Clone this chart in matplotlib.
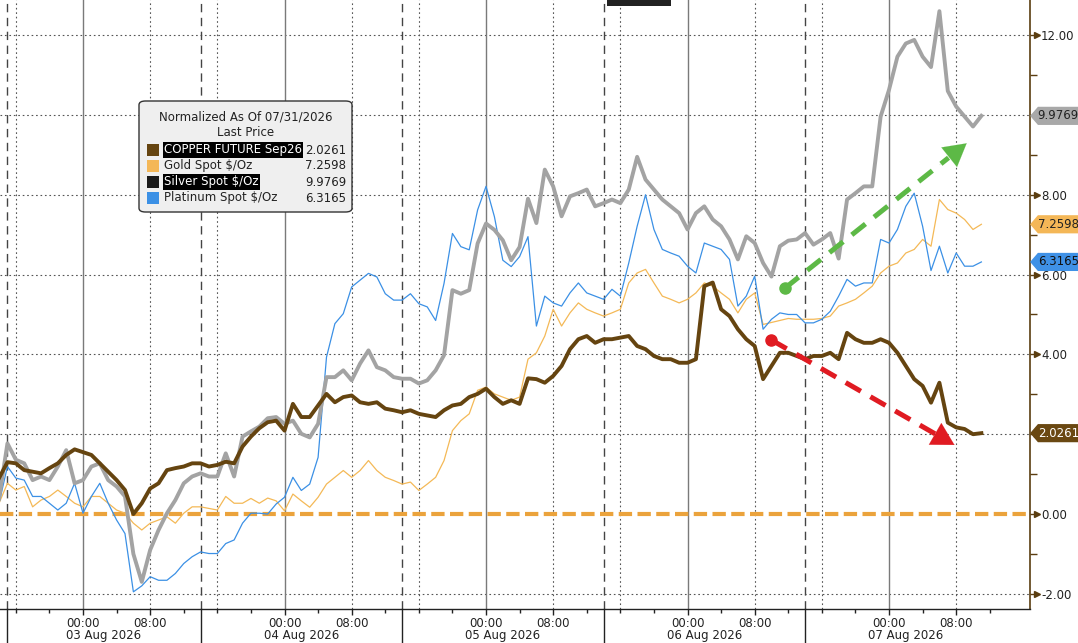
import numpy as np
import matplotlib
matplotlib.use("Agg")
import matplotlib.pyplot as plt
import matplotlib.transforms as mtransforms
from matplotlib.patches import FancyBboxPatch, Rectangle, Polygon

# ---------------- data (hours from 03 Aug 2026 00:00, normalized % change) ----------------
hours = np.arange(-10, 108)

copper = [0.90, 1.30, 1.27, 1.10, 1.06, 1.02, 1.15, 1.27, 1.48, 1.62,
          1.55, 1.48, 1.27, 1.06, 0.85, 0.60, 0.00, 0.27, 0.64, 0.77,
          1.10, 1.15, 1.19, 1.27, 1.27, 1.19, 1.23, 1.31, 1.27, 1.69,
          1.94, 2.15, 2.30, 2.34, 2.09, 2.76, 2.43, 2.43, 2.72, 3.01,
          2.80, 2.93, 2.97, 2.80, 2.76, 2.80, 2.64, 2.60, 2.55, 2.60,
          2.51, 2.47, 2.43, 2.60, 2.72, 2.76, 2.93, 3.01, 3.14, 2.93,
          2.76, 2.85, 2.76, 3.40, 3.38, 3.29, 3.46, 3.71, 4.13, 4.38,
          4.46, 4.29, 4.38, 4.38, 4.42, 4.46, 4.21, 4.13, 3.96, 3.88,
          3.88, 3.79, 3.79, 3.88, 5.71, 5.80, 5.13, 4.96, 4.63, 4.38,
          4.21, 3.38, 3.71, 4.04, 4.04, 3.96, 3.88, 3.96, 3.96, 4.04,
          3.88, 4.54, 4.38, 4.29, 4.29, 4.38, 4.29, 4.04, 3.71, 3.38,
          3.21, 2.79, 3.29, 2.29, 2.17, 2.13, 2.00, 2.0261]

gold = [0.27, 0.77, 0.60, 0.69, 0.18, 0.35, 0.44, 0.60, 0.44, 0.27,
        0.18, 0.44, 0.44, 0.27, 0.10, 0.02, -0.23, -0.40, -0.23, -0.15,
        -0.07, -0.23, 0.02, 0.18, 0.18, 0.14, 0.10, 0.44, 0.27, 0.27,
        0.39, 0.27, 0.40, 0.33, 0.08, 0.50, 0.33, 0.17, 0.42, 0.75,
        0.92, 1.09, 0.92, 1.09, 1.34, 1.09, 0.92, 0.84, 0.75, 0.80,
        0.59, 0.75, 0.92, 1.34, 2.09, 2.34, 2.51, 3.10, 3.18, 3.01,
        2.93, 2.85, 2.93, 3.88, 4.04, 4.46, 5.13, 4.71, 5.04, 5.29,
        5.13, 5.04, 4.96, 5.04, 5.13, 5.79, 6.04, 6.13, 5.79, 5.46,
        5.38, 5.29, 5.38, 5.54, 5.79, 5.71, 5.54, 5.38, 5.04, 5.38,
        5.54, 4.75, 4.80, 4.85, 4.90, 4.88, 4.88, 4.88, 4.90, 4.96,
        5.21, 5.29, 5.38, 5.54, 5.71, 6.04, 6.21, 6.29, 6.54, 6.63,
        6.88, 6.71, 7.88, 7.63, 7.54, 7.38, 7.13, 7.2598]

silver = [0.39, 1.77, 1.36, 1.27, 0.85, 0.94, 0.85, 1.19, 1.60, 0.77,
          0.85, 1.19, 1.27, 0.85, 0.69, 0.44, -1.00, -1.70, -0.90, -0.40,
          0.02, 0.35, 0.77, 0.94, 1.02, 0.94, 0.94, 1.52, 0.94, 1.94,
          2.07, 2.19, 2.40, 2.43, 2.26, 2.34, 2.01, 1.92, 2.26, 3.43,
          3.43, 3.60, 3.35, 3.77, 4.10, 3.68, 3.60, 3.43, 3.39, 3.39,
          3.27, 3.35, 3.60, 3.98, 5.61, 5.52, 5.61, 6.78, 7.28, 7.12,
          6.86, 6.36, 6.69, 7.90, 7.29, 8.63, 8.21, 7.46, 7.96, 8.04,
          8.13, 7.71, 7.79, 7.88, 7.79, 8.13, 8.95, 8.38, 8.13, 7.88,
          7.71, 7.54, 7.13, 7.54, 7.71, 7.38, 7.21, 6.88, 6.38, 6.96,
          6.79, 6.29, 5.95, 6.71, 6.85, 6.88, 7.04, 6.75, 6.88, 7.04,
          6.40, 7.88, 8.04, 8.21, 8.21, 9.96, 10.63, 11.46, 11.79, 11.88,
          11.46, 11.20, 12.60, 10.60, 10.21, 9.96, 9.71, 9.9769]

platinum = [0.27, 1.19, 0.90, 0.85, 0.44, 0.44, 0.27, 0.10, 0.27, 0.77,
            0.02, 0.44, 0.77, 0.27, -0.15, -0.49, -1.95, -1.80, -1.57, -1.66,
            -1.66, -1.49, -1.24, -1.07, -0.95, -0.99, -0.99, -0.74, -0.65, -0.23,
            0.02, 0.02, 0.00, 0.25, 0.42, 0.92, 0.59, 0.75, 1.42, 3.93,
            4.77, 5.02, 5.69, 5.86, 6.03, 5.94, 5.52, 5.36, 5.36, 5.52,
            5.27, 5.19, 4.85, 5.78, 7.03, 6.70, 6.62, 7.62, 8.21, 7.45,
            6.36, 6.20, 6.45, 6.95, 4.71, 5.46, 5.29, 5.21, 5.54, 5.79,
            5.54, 5.46, 5.38, 5.63, 5.46, 6.29, 7.21, 8.00, 7.13, 6.63,
            6.54, 6.46, 6.21, 6.04, 6.79, 6.71, 6.63, 6.38, 5.21, 5.46,
            5.96, 4.63, 4.88, 5.04, 5.00, 5.00, 4.79, 4.79, 4.88, 5.08,
            5.46, 5.88, 5.71, 5.79, 5.79, 6.88, 6.79, 7.13, 7.71, 8.04,
            7.21, 6.10, 6.71, 6.04, 6.54, 6.21, 6.21, 6.3165]

series_names = ["COPPER FUTURE Sep26", "Gold Spot $/Oz", "Silver Spot $/Oz", "Platinum Spot $/Oz"]
legend_title = ["Normalized As Of 07/31/2026", "Last Price"]
y_ticks = [-2, 0, 2, 4, 6, 8, 10, 12]
major_x = [0, 8, 24, 32, 48, 56, 72, 80, 96, 104]
major_x_labels = ["00:00", "08:00"] * 5
day_seps = [-9.05, 14, 38, 62, 86]
day_centers = [2.5, 26, 50, 74, 98]
day_labels = ["03 Aug 2026", "04 Aug 2026", "05 Aug 2026", "06 Aug 2026", "07 Aug 2026"]

# annotation arrows (start, tip)
green_arrow = ((83.6, 5.66), (105.25, 9.29))
red_arrow = ((82.0, 4.36), (103.8, 1.73))

# ---------------- styling ----------------
C_COPPER = "#654410"
C_GOLD = "#f4b957"
C_SILVER = "#a3a3a3"
C_PLAT = "#3b90e5"
C_ZERO = "#eba33c"
C_GREEN = "#5db946"
C_RED = "#e01b22"
FS = 8.5

W, H = 1078, 643
fig = plt.figure(figsize=(W / 100, H / 100), dpi=100)
ax_bottom_px = 609
ax_right_px = 1030
ax = fig.add_axes([0, 1 - ax_bottom_px / H, ax_right_px / W, ax_bottom_px / H])
ax.set_xlim(-9.886, 112.79)
ax.set_ylim(-2.38, 12.88)
ax.set_facecolor("white")

# grid
for y in y_ticks:
    if y != 0:
        ax.axhline(y, color="#555555", lw=0.8, ls=(0, (1.5, 2.5)), zorder=1)
for x in [0, 24, 48, 72, 96]:
    ax.axvline(x, color="#7a7a7a", lw=1.0, zorder=1)
for x in [-8, 8, 16, 32, 40, 56, 64, 80, 88, 104]:
    ax.axvline(x, color="#555555", lw=0.8, ls=(0, (1.5, 2.5)), zorder=1)
for x in day_seps:
    ax.axvline(x, color="#444444", lw=1.0, ls=(0, (6, 4)), zorder=1)

# zero line
ax.axhline(0, color=C_ZERO, lw=3, ls=(0, (3.2, 1.3)), zorder=2)

# series
ax.plot(hours, gold, color=C_GOLD, lw=0.9, zorder=3)
ax.plot(hours, platinum, color=C_PLAT, lw=0.9, zorder=4)
ax.plot(hours, silver, color=C_SILVER, lw=2.8, zorder=5, solid_joinstyle="round")
ax.plot(hours, copper, color=C_COPPER, lw=2.8, zorder=6, solid_joinstyle="round")

# arrows
for (p0, p1), col in [(green_arrow, C_GREEN), (red_arrow, C_RED)]:
    (x0, y0), (x1, y1) = p0, p1
    xm, ym = x0 + 0.9 * (x1 - x0), y0 + 0.9 * (y1 - y0)
    ax.plot([x0, xm], [y0, ym], color=col, lw=3.6, ls=(0, (3.5, 2.2)), zorder=8,
            solid_capstyle="butt", dash_capstyle="butt")
    ax.plot([x0], [y0], marker="o", ms=8, color=col, zorder=8)
    ax.annotate("", xy=(x1, y1), xytext=(xm - 0.05 * (x1 - x0), ym - 0.05 * (y1 - y0)),
                arrowprops=dict(arrowstyle="-|>,head_length=0.8,head_width=0.45",
                                color=col, lw=0.1, mutation_scale=20, shrinkA=0, shrinkB=0),
                zorder=8)

# spines
for s in ["left", "top"]:
    ax.spines[s].set_visible(False)
ax.spines["right"].set_color("#5a3d10")
ax.spines["right"].set_linewidth(1.2)
ax.spines["bottom"].set_color("#222222")
ax.spines["bottom"].set_linewidth(1.0)

# y axis on the right
ax.yaxis.tick_right()
ax.set_yticks(y_ticks)
ax.set_yticklabels(["" if v in (2, 10) else f"{v:.2f}" for v in y_ticks], fontsize=FS, color="#222222")
ax.set_yticks(np.arange(-1, 13, 2), minor=True)
ax.tick_params(axis="y", which="major", length=6, width=1, color="#5a3d10", pad=2)
ax.tick_params(axis="y", which="minor", length=5, width=1, color="#5a3d10")
tr_y = mtransforms.blended_transform_factory(ax.transAxes, ax.transData)
ax.plot([1.0065] * len(y_ticks), y_ticks, ls="none", marker=">", ms=5, color="#5a3d10",
        transform=tr_y, clip_on=False, zorder=9)

# x axis
ax.set_xticks(major_x)
ax.set_xticklabels(major_x_labels, fontsize=FS, color="#222222")
minor_x = [h for h in range(-8, 112, 4) if h not in major_x]
ax.set_xticks(minor_x, minor=True)
ax.tick_params(axis="x", which="major", length=4, width=1, color="#222222", pad=2)
ax.tick_params(axis="x", which="minor", length=3, width=1, color="#222222")
tr_x = mtransforms.blended_transform_factory(ax.transData, ax.transAxes)
for x in day_seps:
    ax.plot([x, x], [0, -0.06], color="#222222", lw=1.0, transform=tr_x, clip_on=False)
for x, lab in zip(day_centers, day_labels):
    ax.text(x, -0.044, lab, transform=tr_x, ha="center", va="center", fontsize=FS, color="#222222")

# value tags on the right
def tag(v, text, fc, tc):
    hh = 0.21
    poly = Polygon([(1.001, v), (1.008, v + hh), (1.06, v + hh), (1.06, v - hh), (1.008, v - hh)],
                   closed=True, transform=tr_y, clip_on=False, facecolor=fc, edgecolor=fc, zorder=20)
    ax.add_patch(poly)
    ax.text(1.0075, v, text, transform=tr_y, ha="left", va="center", fontsize=FS, color=tc,
            clip_on=False, zorder=21)

tag(silver[-1], f"{silver[-1]:.4f}", "#a8a8a8", "#222222")
tag(gold[-1], f"{gold[-1]:.4f}", "#f4b757", "#222222")
tag(platinum[-1], f"{platinum[-1]:.4f}", "#3f91e6", "#111111")
tag(copper[-1], f"{copper[-1]:.4f}", "#6a4812", "#ffffff")

# ---------------- legend box (figure pixel coordinates) ----------------
def fx(x):
    return x / W

def fy(y):
    return 1 - y / H

box = FancyBboxPatch((fx(139), fy(212)), fx(352) - fx(139), fy(101) - fy(212),
                     boxstyle="round,pad=0,rounding_size=0.006", transform=fig.transFigure,
                     facecolor="#efefef", edgecolor="#333333", lw=1.0, zorder=30)
fig.patches.append(box)
fig.text(fx(246), fy(117), legend_title[0], ha="center", va="center", fontsize=FS, color="#222222", zorder=31)
fig.text(fx(246), fy(133), legend_title[1], ha="center", va="center", fontsize=FS, color="#222222", zorder=31)
rows_y = [150, 166, 182, 198]
sq_cols = [C_COPPER, "#f4b757", "#1a1a1a", C_PLAT]
highlight = [True, False, True, False]
values = [copper[-1], gold[-1], silver[-1], platinum[-1]]
for yy, name, col, hl, val in zip(rows_y, series_names, sq_cols, highlight, values):
    fig.patches.append(Rectangle((fx(147), fy(yy + 6)), fx(12), fy(0) - fy(12),
                                 transform=fig.transFigure, facecolor=col, edgecolor="none", zorder=31))
    if hl:
        fig.text(fx(164), fy(yy), name, ha="left", va="center", fontsize=FS, color="white", zorder=32,
                 bbox=dict(facecolor="black", edgecolor="none", pad=1.0))
    else:
        fig.text(fx(164), fy(yy), name, ha="left", va="center", fontsize=FS, color="#222222", zorder=32)
    fig.text(fx(346), fy(yy), f"{val:.4f}", ha="right", va="center", fontsize=FS, color="#222222", zorder=32)

# dark title stub at top
fig.patches.append(Rectangle((fx(607), fy(6)), fx(64), fy(0) - fy(6), transform=fig.transFigure,
                             facecolor="#222222", edgecolor="none", zorder=30))

fig.savefig("out.png", dpi=100)
